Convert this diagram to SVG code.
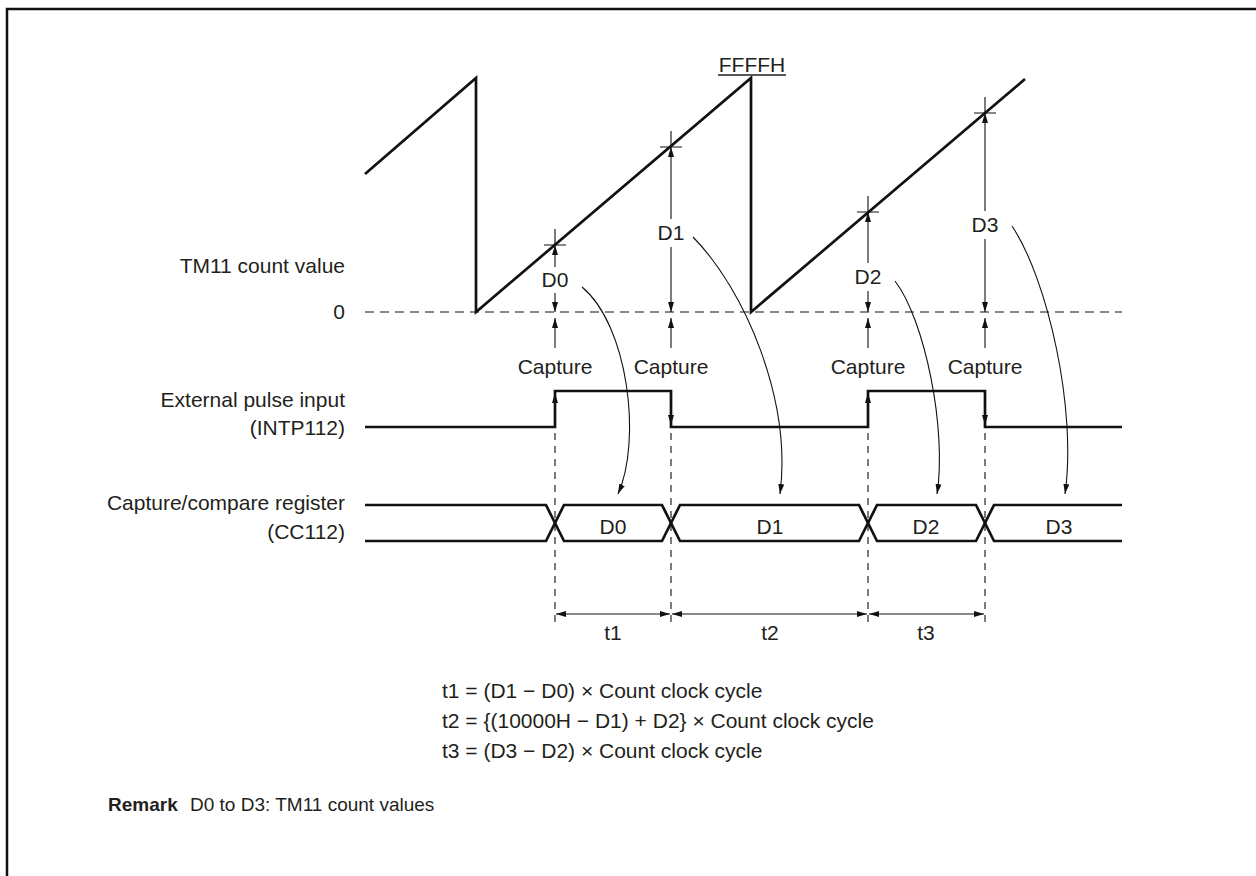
<svg xmlns="http://www.w3.org/2000/svg" width="1256" height="876" viewBox="0 0 1256 876">
<defs>
<marker id="ah" viewBox="0 0 10 6" refX="10" refY="3" markerWidth="10" markerHeight="6" markerUnits="userSpaceOnUse" orient="auto-start-reverse">
<path d="M0,0 L10,3 L0,6 z" fill="#111"/>
</marker>
<style>
.t{font-family:"Liberation Sans",Arial,Helvetica,sans-serif;font-size:21px;fill:#231f20}
.e{text-anchor:end}
.m{text-anchor:middle}
.b{font-weight:bold}
.r{font-size:19px}
.thick{fill:none;stroke:#111;stroke-width:2.7;stroke-linejoin:miter}
.thin{fill:none;stroke:#111;stroke-width:1.1}
.dash{fill:none;stroke:#111;stroke-width:1.1;stroke-dasharray:9 6}
.vdash{fill:none;stroke:#111;stroke-width:1.1;stroke-dasharray:7 6}
.arr{marker-end:url(#ah)}
.arr2{marker-start:url(#ah);marker-end:url(#ah)}
</style>
</defs>
<rect width="1256" height="876" fill="#fff"/>
<path d="M7,876 V9 H1256" fill="none" stroke="#111" stroke-width="2.5"/>

<g id="labels">
<text class="t e" x="345" y="273">TM11 count value</text>
<text class="t e" x="345" y="319">0</text>
<text class="t e" x="345" y="407">External pulse input</text>
<text class="t e" x="345" y="435">(INTP112)</text>
<text class="t e" x="345" y="510">Capture/compare register</text>
<text class="t e" x="345" y="539">(CC112)</text>
</g>

<g id="counter">
<line class="dash" x1="365" y1="312" x2="1122" y2="312"/>
<path class="thick" d="M365,174 L476,78 V312 L751,78 V312 L1025,79"/>
<text class="t m" x="752" y="72">FFFFH</text>
<line x1="718" y1="75" x2="786" y2="75" stroke="#231f20" stroke-width="1.3"/>
</g>

<g id="capture-points">
<path class="thin" d="M544,245 H566 M555,229 V245 M660,147 H682 M671,131 V147 M857,212 H879 M868,196 V212 M974,113 H996 M985,97 V113"/>
</g>

<g id="dimensions">
<line class="thin arr" x1="555" y1="267" x2="555" y2="245"/>
<line class="thin arr" x1="555" y1="293" x2="555" y2="312"/>
<text class="t m" x="555" y="287">D0</text>
<line class="thin arr" x1="671" y1="219" x2="671" y2="147"/>
<line class="thin arr" x1="671" y1="247" x2="671" y2="312"/>
<text class="t m" x="671" y="240">D1</text>
<line class="thin arr" x1="868" y1="263" x2="868" y2="212"/>
<line class="thin arr" x1="868" y1="291" x2="868" y2="312"/>
<text class="t m" x="868" y="284">D2</text>
<line class="thin arr" x1="985" y1="211" x2="985" y2="113"/>
<line class="thin arr" x1="985" y1="239" x2="985" y2="312"/>
<text class="t m" x="985" y="232">D3</text>
</g>

<g id="captures">
<line class="thin arr" x1="555" y1="348" x2="555" y2="318"/>
<line class="thin arr" x1="671" y1="348" x2="671" y2="318"/>
<line class="thin arr" x1="868" y1="348" x2="868" y2="318"/>
<line class="thin arr" x1="985" y1="348" x2="985" y2="318"/>
<text class="t m" x="555" y="374">Capture</text>
<text class="t m" x="671" y="374">Capture</text>
<text class="t m" x="868" y="374">Capture</text>
<text class="t m" x="985" y="374">Capture</text>
</g>

<g id="pulse">
<path class="thick" d="M365,427 H555 V391 H671 V427 H868 V391 H985 V427 H1122"/>
<line class="thin arr" x1="555" y1="410" x2="555" y2="393"/>
<line class="thin arr" x1="671" y1="408" x2="671" y2="425"/>
<line class="thin arr" x1="868" y1="410" x2="868" y2="393"/>
<line class="thin arr" x1="985" y1="408" x2="985" y2="425"/>
</g>

<g id="register">
<path class="thick" d="M365,505 H546 L564,541 H662 L680,505 H859 L877,541 H976 L994,505 H1122"/>
<path class="thick" d="M365,541 H546 L564,505 H662 L680,541 H859 L877,505 H976 L994,541 H1122"/>
<text class="t m" x="613" y="534">D0</text>
<text class="t m" x="770" y="534">D1</text>
<text class="t m" x="926" y="534">D2</text>
<text class="t m" x="1059" y="534">D3</text>
</g>

<g id="timelines">
<line class="vdash" x1="555" y1="433" x2="555" y2="628"/>
<line class="vdash" x1="671" y1="433" x2="671" y2="628"/>
<line class="vdash" x1="868" y1="433" x2="868" y2="628"/>
<line class="vdash" x1="985" y1="433" x2="985" y2="628"/>
<line class="thin arr2" x1="556" y1="614" x2="670" y2="614"/>
<line class="thin arr2" x1="672" y1="614" x2="867" y2="614"/>
<line class="thin arr2" x1="869" y1="614" x2="984" y2="614"/>
<text class="t m" x="613" y="640">t1</text>
<text class="t m" x="770" y="640">t2</text>
<text class="t m" x="926" y="640">t3</text>
</g>

<g id="connectors">
<path class="thin arr" d="M582,287 C628,325 642,440 618,494"/>
<path class="thin arr" d="M693,237 C745,290 792,400 780,494"/>
<path class="thin arr" d="M895,281 C925,320 947,430 937,494"/>
<path class="thin arr" d="M1012,226 C1048,280 1077,410 1065,494"/>
</g>

<g id="formulas">
<text class="t" x="442" y="698">t1 = (D1 − D0) × Count clock cycle</text>
<text class="t" x="442" y="728">t2 = {(10000H − D1) + D2} × Count clock cycle</text>
<text class="t" x="442" y="758">t3 = (D3 − D2) × Count clock cycle</text>
</g>

<g id="remark">
<text class="t b r" x="108" y="811">Remark</text>
<text class="t r" x="190" y="811">D0 to D3: TM11 count values</text>
</g>
</svg>
